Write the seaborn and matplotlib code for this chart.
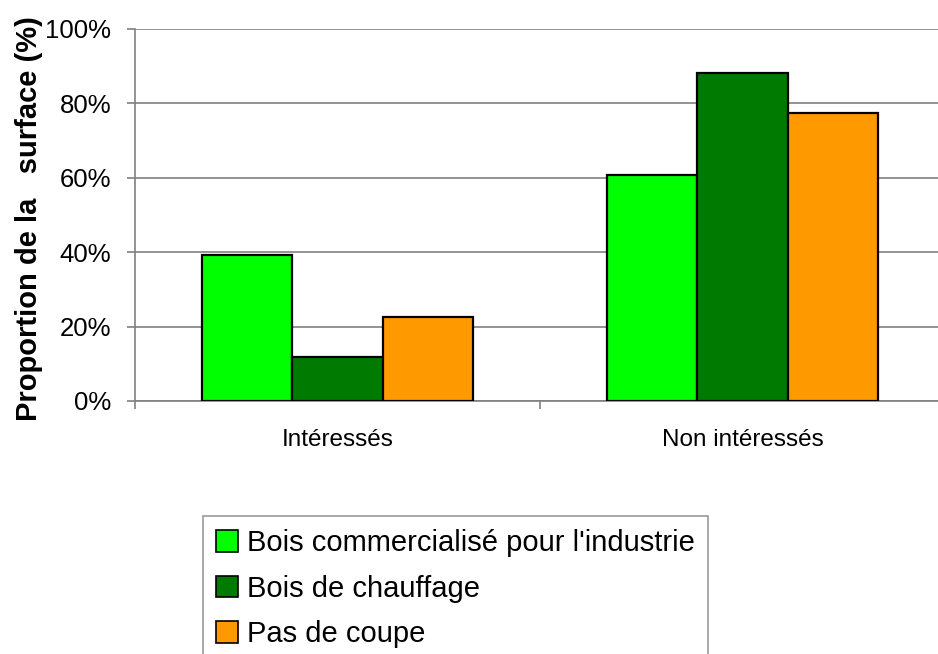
import matplotlib
matplotlib.use("Agg")
import matplotlib.pyplot as plt
import seaborn as sns
import pandas as pd
from matplotlib.ticker import FixedLocator, PercentFormatter

categories = ["Intéressés", "Non intéressés"]
series = ["Bois commercialisé pour l'industrie", "Bois de chauffage", "Pas de coupe"]
values_industrie = [39.3, 60.7]
values_chauffage = [11.8, 88.2]
values_pas_coupe = [22.7, 77.3]
colors = ["#00FF00", "#007A00", "#FF9900"]
yticks = [0, 20, 40, 60, 80, 100]

rows = []
for s, vals in zip(series, [values_industrie, values_chauffage, values_pas_coupe]):
    for c, v in zip(categories, vals):
        rows.append({"cat": c, "serie": s, "val": v})
df = pd.DataFrame(rows)

sns.set_theme(style="white")
plt.rcParams["font.family"] = ["Liberation Sans", "DejaVu Sans"]
plt.rcParams["text.color"] = "black"
plt.rcParams["xtick.labelcolor"] = "black"
plt.rcParams["ytick.labelcolor"] = "black"
plt.rcParams["axes.labelcolor"] = "black"

fig = plt.figure(figsize=(9.38, 6.54), dpi=100)
ax = fig.add_axes([135 / 938, 1 - 401 / 654, 810 / 938, 372 / 654])

sns.barplot(data=df, x="cat", y="val", hue="serie", hue_order=series,
            order=categories, palette=colors, width=0.667, gap=0,
            edgecolor="black", linewidth=1.6, saturation=1, ax=ax, zorder=3)

ax.set_xlim(-0.5, 1.5)
ax.set_ylim(0, 100)
ax.yaxis.set_major_locator(FixedLocator(yticks))
ax.yaxis.set_major_formatter(PercentFormatter(decimals=0))
ax.grid(axis="y", color="#808080", linewidth=1.2, zorder=0)
ax.grid(axis="x", visible=False)
ax.set_axisbelow(True)

for side in ["top", "right"]:
    ax.spines[side].set_visible(False)
for side in ["left", "bottom"]:
    ax.spines[side].set_color("#808080")
    ax.spines[side].set_linewidth(1.2)

ax.tick_params(axis="y", direction="out", length=6, width=1.2, color="#808080",
               pad=11, labelsize=18.5, left=True)
ax.tick_params(axis="x", which="major", length=0, pad=20, labelsize=17.5)
ax.xaxis.set_minor_locator(FixedLocator([-0.5, 0.5, 1.5]))
ax.tick_params(axis="x", which="minor", direction="out", length=6, width=1.2,
               color="#808080", bottom=True)

ax.set_xlabel("")
ax.set_ylabel("Proportion de la   surface (%)", fontsize=21, fontweight="bold")
ax.yaxis.set_label_coords(-0.113, 0.49)

leg = ax.get_legend()
if leg is not None:
    leg.remove()
handles = [plt.Rectangle((0, 0), 1, 1, facecolor=c, edgecolor="black", linewidth=1.2)
           for c in colors]
legend = fig.legend(handles, series, loc="upper left",
                    bbox_to_anchor=(203 / 938, 1 - 516 / 654),
                    fontsize=21, frameon=True, fancybox=False,
                    edgecolor="#808080", handlelength=0.75, handleheight=0.75,
                    handletextpad=0.3, labelspacing=0.6, borderpad=0.45,
                    borderaxespad=0)
legend.get_frame().set_linewidth(1.2)

fig.savefig("out.png", dpi=100)
